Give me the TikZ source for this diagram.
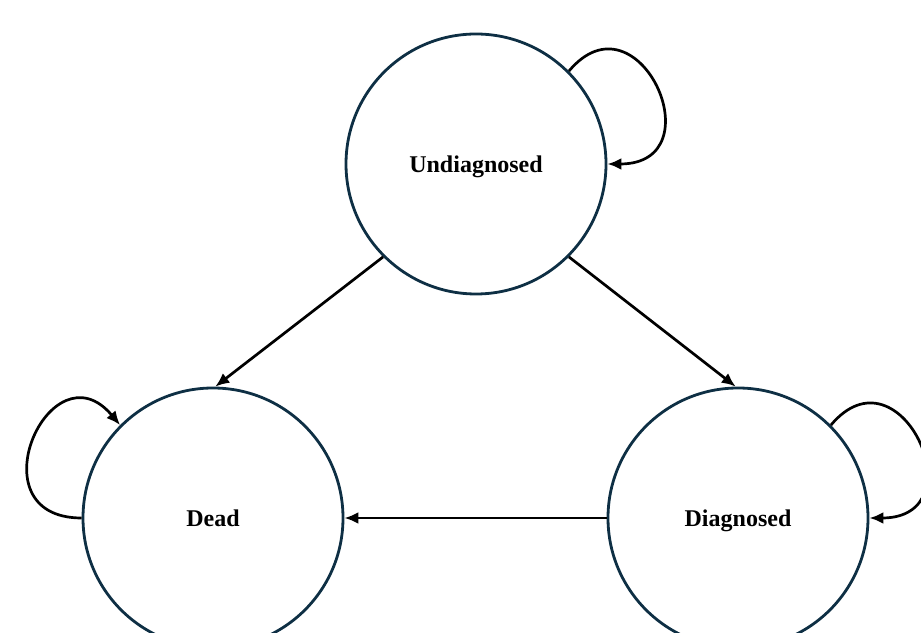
\documentclass[tikz,border=0pt]{standalone}
\usepackage{fontspec}
\setmainfont{Liberation Serif}
\usetikzlibrary{arrows.meta}
\definecolor{ringblue}{RGB}{14,47,68}
\begin{document}
\begin{tikzpicture}[x=1pt,y=1pt,
    state/.style={circle,draw=ringblue,line width=2.8pt,minimum size=260pt,inner sep=0pt,
        text height=16.5pt,text depth=0pt,font=\fontsize{24}{28}\selectfont\bfseries},
    trans/.style={-{Latex[length=14pt,width=12pt]},line width=2.7pt}]
            \useasboundingbox (0,0) rectangle (921,632);
            \clip (0,0) rectangle (921,632);
            \node[state] (undiag) at (476,468) {Undiagnosed};
            \node[state] (dead) at (213,114) {Dead};
            \node[state] (diag) at (738,114) {Diagnosed};
            \draw[trans] (undiag.225)--(dead.89);
            \draw[trans] (undiag.315)--(diag.91);
            \draw[trans] (diag.west)--(dead.east);
            \draw[trans] (undiag.45) .. controls +(50:108) and +(0:110) .. (undiag.east);
            \draw[trans] (diag.45) .. controls +(50:108) and +(0:110) .. (diag.east);
            \draw[trans] (dead.west) .. controls +(180:110) and +(130:108) .. (dead.135);
        \end{tikzpicture}
\end{document}
